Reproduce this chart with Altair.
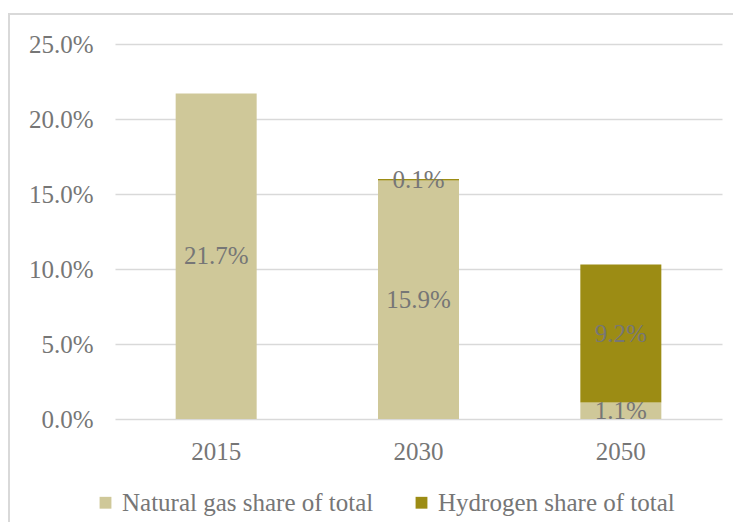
import altair as alt
import pandas as pd

years = ["2015", "2030", "2050"]
natural_gas = [21.7, 15.9, 1.1]
hydrogen = [0.0, 0.1, 9.2]
series_names = ["Natural gas share of total", "Hydrogen share of total"]
colors = ["#CFC899", "#9C8C14"]

rows = []
for i, y in enumerate(years):
    rows.append({"year": y, "series": series_names[0], "value": natural_gas[i] / 100, "order": 0})
    rows.append({"year": y, "series": series_names[1], "value": hydrogen[i] / 100, "order": 1})
df = pd.DataFrame(rows)

FONT = "Liberation Serif"
TXT = "#767676"
FS = 25

base = alt.Chart(df).transform_stack(
    stack="value", groupby=["year"], as_=["v0", "v1"], sort=[alt.SortField("order")]
).transform_calculate(mid="(datum.v0 + datum.v1) / 2")

bars = base.mark_bar(size=81).encode(
    x=alt.X("year:N", title=None, sort=years,
            axis=alt.Axis(labelAngle=0, labelFont=FONT, labelFontSize=FS, labelColor=TXT,
                          labelPadding=20, ticks=False, domain=False)),
    y=alt.Y("v0:Q", title=None, scale=alt.Scale(domain=[0, 0.25], nice=False),
            axis=alt.Axis(format=".1%", values=[0, 0.05, 0.1, 0.15, 0.2, 0.25],
                          labelFont=FONT, labelFontSize=FS, labelColor=TXT,
                          labelPadding=22, ticks=False, domain=False,
                          gridColor="#D9D9D9", gridWidth=1.5)),
    y2="v1:Q",
    color=alt.Color("series:N", sort=series_names,
                    scale=alt.Scale(domain=series_names, range=colors),
                    legend=alt.Legend(title=None, orient="none", direction="horizontal",
                                      legendX=-22, legendY=446, symbolType="square",
                                      symbolSize=140, symbolStrokeWidth=0,
                                      labelFont=FONT, labelFontSize=FS, labelColor=TXT,
                                      labelLimit=0, columnPadding=35, symbolOffset=0,
                                      labelOffset=4)),
)

labels = base.transform_filter("datum.value > 0").mark_text(
    font=FONT, fontSize=FS, color=TXT
).encode(
    x=alt.X("year:N", sort=years),
    y=alt.Y("mid:Q"),
    text=alt.Text("value:Q", format=".1%"),
)

frame = alt.Chart(df).mark_rect(fill=None, stroke="#D9D9D9", strokeWidth=1.5).encode(
    x=alt.value(-106), x2=alt.value(640), y=alt.value(-30), y2=alt.value(600)
)

chart = alt.layer(frame, bars, labels).properties(
    width=607, height=375,
    autosize=alt.AutoSizeParams(type="none"),
    padding={"left": 107, "top": 36, "right": 11, "bottom": 103},
).configure_view(stroke=None)

chart.save("out.html", embed_options={"renderer": "svg", "actions": False})
